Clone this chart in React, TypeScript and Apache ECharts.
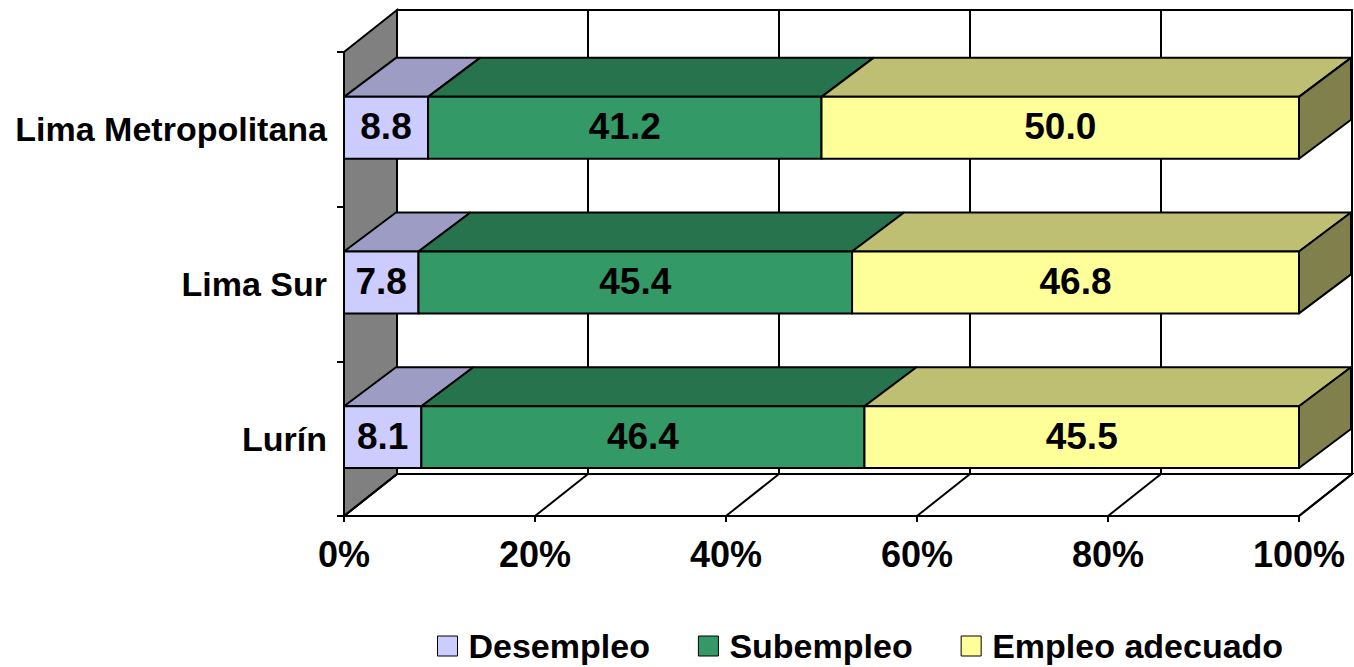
import React, { useEffect, useRef } from "react";
import * as echarts from "echarts";

const categories = ["Lima Metropolitana", "Lima Sur", "Lurín"];
const seriesNames = ["Desempleo", "Subempleo", "Empleo adecuado"];
const desempleo = [8.8, 7.8, 8.1];
const subempleo = [41.2, 45.4, 46.4];
const empleoAdecuado = [50.0, 46.8, 45.5];
const valueTicks = [0, 20, 40, 60, 80, 100];

const frontColors = ["#CCCCFF", "#339966", "#FFFF99"];
const topColors = ["#9C9CC4", "#26734D", "#BFBF73"];
const sideColors = ["#9999BF", "#1A6640", "#80804D"];

const FONT = "'Liberation Sans', Arial, Helvetica, sans-serif";
const WDX = 53; // wall depth offset x
const WDY = -42; // wall depth offset y
const BDX = 52; // bar depth offset x
const BDY = -39; // bar depth offset y

export default function App() {
  const ref = useRef<HTMLDivElement>(null);
  useEffect(() => {
    if (!ref.current) return;
    const chart = echarts.init(ref.current, null, { renderer: "svg" });
    const allValues = [desempleo, subempleo, empleoAdecuado];

    const barSeries = allValues.map((vals, s) => {
      const data = vals.map((v, i) => {
        let start = 0;
        for (let k = 0; k < s; k++) start += allValues[k][i];
        return [start, start + v, i, v];
      });
      const isLast = s === allValues.length - 1;
      return {
        type: "custom",
        name: seriesNames[s],
        z: 3,
        itemStyle: { color: frontColors[s] },
        encode: { x: [0, 1], y: 2 },
        data,
        renderItem: (params: any, api: any) => {
          const start = api.value(0);
          const end = api.value(1);
          const idx = api.value(2);
          const val = api.value(3);
          const p0 = api.coord([start, idx]);
          const p1 = api.coord([end, idx]);
          const bw = api.size([0, 1])[1];
          const top = p0[1] - 0.21 * bw;
          const bot = p0[1] + 0.19 * bw;
          const x0 = p0[0];
          const x1 = p1[0];
          const stroke = { stroke: "#000", lineWidth: 2, lineJoin: "round" };
          const children: any[] = [
            {
              type: "polygon",
              shape: { points: [[x0, top], [x1, top], [x1 + BDX, top + BDY], [x0 + BDX, top + BDY]] },
              style: { fill: topColors[s], ...stroke },
            },
            {
              type: "polygon",
              shape: { points: [[x0, top], [x1, top], [x1, bot], [x0, bot]] },
              style: { fill: frontColors[s], ...stroke },
            },
          ];
          if (isLast) {
            children.push({
              type: "polygon",
              shape: { points: [[x1, top], [x1 + BDX, top + BDY], [x1 + BDX, bot + BDY], [x1, bot]] },
              style: { fill: sideColors[s], ...stroke },
            });
          }
          children.push({
            type: "text",
            style: {
              text: Number(val).toFixed(1),
              x: (x0 + x1) / 2,
              y: (top + bot) / 2 - 1,
              align: "center",
              verticalAlign: "middle",
              fontSize: 37,
              fontWeight: "bold",
              fontFamily: FONT,
              fill: "#000",
            },
          });
          return { type: "group", children };
        },
      };
    });

    const wallSeries = {
      type: "custom",
      name: "walls",
      z: 1,
      silent: true,
      encode: { x: 0, y: 1 },
      data: [[0, 0]],
      renderItem: (params: any, api: any) => {
        const cs = params.coordSys;
        const topY = cs.y;
        const botY = cs.y + cs.height;
        const xl = api.coord([0, 0])[0];
        const xr = api.coord([100, 0])[0];
        const line = { stroke: "#000", lineWidth: 2 };
        const children: any[] = [
          {
            type: "polygon",
            shape: { points: [[xl + WDX, topY + WDY], [xr + WDX, topY + WDY], [xr + WDX, botY + WDY], [xl + WDX, botY + WDY]] },
            style: { fill: "#fff", ...line },
          },
          {
            type: "polygon",
            shape: { points: [[xl, botY], [xr, botY], [xr + WDX, botY + WDY], [xl + WDX, botY + WDY]] },
            style: { fill: "#fff", ...line },
          },
          {
            type: "polygon",
            shape: { points: [[xl, topY], [xl + WDX, topY + WDY], [xl + WDX, botY + WDY], [xl, botY]] },
            style: { fill: "#808080", ...line },
          },
        ];
        valueTicks.forEach((v) => {
          const x = api.coord([v, 0])[0];
          children.push({
            type: "line",
            shape: { x1: x + WDX, y1: topY + WDY, x2: x + WDX, y2: botY + WDY },
            style: line,
          });
          children.push({
            type: "line",
            shape: { x1: x, y1: botY, x2: x + WDX, y2: botY + WDY },
            style: line,
          });
        });
        return { type: "group", children };
      },
    };

    chart.setOption({
      animation: false,
      backgroundColor: "#fff",
      grid: { left: 344, right: 55, top: 52, bottom: 151, containLabel: false },
      xAxis: {
        type: "value",
        min: 0,
        max: 100,
        interval: 20,
        splitLine: { show: false },
        axisLine: { show: true, lineStyle: { color: "#000", width: 2 } },
        axisTick: { show: true, length: 6, lineStyle: { color: "#000", width: 2 } },
        axisLabel: {
          formatter: "{value}%",
          margin: 20,
          color: "#000",
          fontSize: 36,
          fontWeight: "bold",
          fontFamily: FONT,
        },
        z: 5,
      },
      yAxis: {
        type: "category",
        inverse: true,
        data: categories,
        axisLine: { show: true, lineStyle: { color: "#000", width: 2 } },
        axisTick: { show: true, length: 7, lineStyle: { color: "#000", width: 2 } },
        axisLabel: {
          margin: 17,
          color: "#000",
          fontSize: 34,
          fontWeight: "bold",
          fontFamily: FONT,
        },
        z: 5,
      },
      legend: {
        data: seriesNames,
        left: 432,
        top: 624,
        icon: "rect",
        itemWidth: 20,
        itemHeight: 20,
        itemGap: 48,
        itemStyle: { borderColor: "#000", borderWidth: 1 },
        textStyle: {
          color: "#000",
          fontSize: 34,
          fontWeight: "bold",
          fontFamily: FONT,
          padding: [0, 0, 0, 6],
        },
      },
      series: [wallSeries, ...barSeries],
    });
    return () => chart.dispose();
  }, []);
  return (
    <div
      ref={ref}
      style={{ position: "absolute", left: 0, top: 0, width: 1354, height: 667 }}
    />
  );
}
